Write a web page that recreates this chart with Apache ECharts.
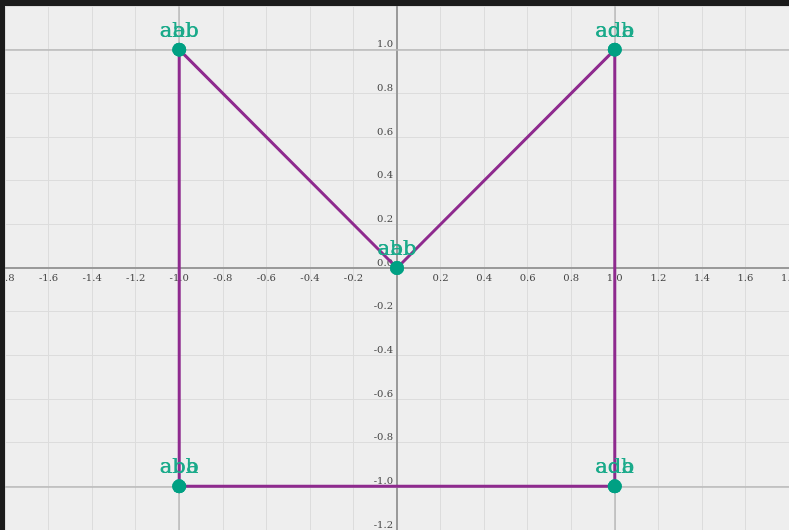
<!DOCTYPE html>
<html>
<head>
<meta charset="utf-8">
<script src="https://cdn.jsdelivr.net/npm/echarts@6/dist/echarts.min.js"></script>
<style>
    html, body { margin: 0; padding: 0; background: #1b1b1b; overflow: hidden; }
    #main { position: absolute; left: 5px; top: 6px; width: 784px; height: 524px; background: #eeeeee; }
</style>
</head>
<body>
<div id="main"></div>
<script>
// 顶点坐标
var pointsX = [-1, -1, 0, 1, 1];
var pointsY = [-1, 1, 0, 1, -1];
// 连线顺序 (闭合)
var pathOrder = [0, 1, 2, 3, 4, 0];
// 每个点上重叠的两层标签
var labelsA = ['aba', 'abb', 'aab', 'adb', 'ada'];
var labelsB = ['abb', 'aab', 'abb', 'ada', 'adb'];
// 坐标范围和刻度
var xMin = -1.8, xMax = 1.8;
var yMin = -1.2, yMax = 1.2;
var tickStep = 0.2;
// 较深的 ±1 参考线
var guideX = [-1, 1];
var guideY = [-1, 1];

var W = 784, H = 524;
var chart = echarts.init(document.getElementById('main'));

var pathData = pathOrder.map(function (i) { return [pointsX[i], pointsY[i]]; });
var pointData = pointsX.map(function (x, i) { return [x, pointsY[i]]; });

var guides = [];
guideX.forEach(function (v) { guides.push({ xAxis: v }); });
guideY.forEach(function (v) { guides.push({ yAxis: v }); });

var tickFont = {
    fontFamily: 'DejaVu Serif',
    fontSize: 10,
    color: '#444'
};

function fmt(v) {
    return Math.abs(v) < 1e-9 ? '0.0' : v.toFixed(1);
}

function pointLabel(list) {
    return {
        show: true,
        position: 'top',
        distance: 1,
        fontFamily: 'DejaVu Serif',
        fontSize: 21,
        color: '#1aaa8a',
        formatter: function (p) { return list[p.dataIndex]; }
    };
}

// 把坐标轴挪到原点 (标签跟着轴线走)
var xOffset = -H * (0 - yMin) / (yMax - yMin);
var yOffset = -W * (0 - xMin) / (xMax - xMin);

var option = {
    animation: false,
    grid: { left: 0, right: 0, top: 0, bottom: 0, containLabel: false, outerBoundsMode: 'none' },
    xAxis: {
        type: 'value',
        min: xMin,
        max: xMax,
        interval: tickStep,
        position: 'bottom',
        offset: xOffset,
        axisLine: { onZero: false, lineStyle: { color: '#9a9a9a', width: 2 } },
        axisTick: { show: false },
        axisLabel: Object.assign({
            margin: 5,
            showMinLabel: true,
            showMaxLabel: true,
            hideOverlap: false,
            formatter: function (v) { return Math.abs(v) < 1e-9 ? '' : fmt(v); }
        }, tickFont),
        splitLine: { lineStyle: { color: '#dcdcdc', width: 1 } }
    },
    yAxis: {
        type: 'value',
        min: yMin,
        max: yMax,
        interval: tickStep,
        position: 'left',
        offset: yOffset,
        axisLine: { onZero: false, lineStyle: { color: '#9a9a9a', width: 2 } },
        axisTick: { show: false },
        axisLabel: Object.assign({
            margin: 4,
            verticalAlign: 'bottom',
            showMinLabel: true,
            showMaxLabel: true,
            hideOverlap: false,
            formatter: fmt
        }, tickFont),
        splitLine: { lineStyle: { color: '#dcdcdc', width: 1 } }
    },
    series: [{
        type: 'line',
        data: pathData,
        showSymbol: false,
        silent: true,
        z: 3,
        lineStyle: { color: '#8e2a8e', width: 3 },
        markLine: {
            silent: true,
            symbol: 'none',
            label: { show: false },
            lineStyle: { color: '#b8b8b8', width: 1.5, type: 'solid' },
            data: guides,
            z: 1
        }
    }, {
        type: 'scatter',
        data: pointData,
        symbolSize: 14,
        z: 4,
        itemStyle: { color: '#00a083', opacity: 1 },
        label: pointLabel(labelsA)
    }, {
        type: 'scatter',
        data: pointData,
        symbolSize: 14,
        z: 5,
        itemStyle: { color: '#00a083', opacity: 1 },
        label: pointLabel(labelsB)
    }]
};

chart.setOption(option);
</script>
</body>
</html>
